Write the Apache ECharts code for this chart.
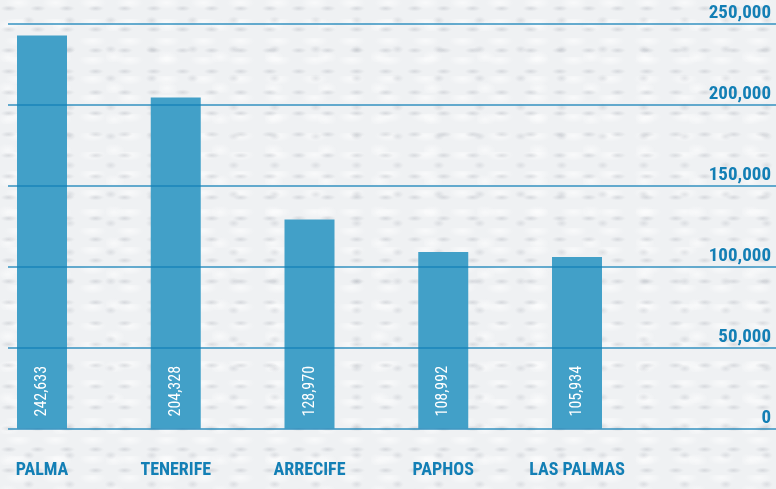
<!DOCTYPE html>
<html>
<head>
<meta charset="utf-8">
<script src="https://cdn.jsdelivr.net/npm/echarts@6/dist/echarts.min.js"></script>
<style>
  html, body { margin: 0; padding: 0; }
  body {
    width: 776px; height: 489px; overflow: hidden;
    background-color: #eff1f3;
    background-image:
      radial-gradient(ellipse 8px 3px at 30% 40%, rgba(140,145,155,0.25), transparent 100%),
      radial-gradient(ellipse 6px 4px at 70% 70%, rgba(140,145,155,0.2), transparent 100%),
      radial-gradient(ellipse 14px 6px at 50% 15%, rgba(255,255,255,0.6), transparent 100%),
      radial-gradient(ellipse 11px 7px at 15% 85%, rgba(255,255,255,0.55), transparent 100%);
    background-size: 29px 21px, 41px 29px, 37px 19px, 53px 31px;
  }
  #chart { width: 776px; height: 489px; }
</style>
</head>
<body>
<div id="chart"></div>
<script>
// Airports and passenger totals
const airports = ['PALMA', 'TENERIFE', 'ARRECIFE', 'PAPHOS', 'LAS PALMAS'];
const passengers = [242633, 204328, 128970, 108992, 105934];
const yTicks = [0, 50000, 100000, 150000, 200000, 250000];

const blue = '#137fb5';
const barBlue = '#42a0c8';
const condensed = '"Liberation Sans Narrow", "Roboto Condensed", "Arial Narrow", sans-serif';

const chart = echarts.init(document.getElementById('chart'), null, { renderer: 'canvas' });

const gridTop = 23.5, gridBottom = 60.5;

chart.setOption({
  animation: false,
  backgroundColor: 'transparent',
  grid: [
    // full-width grid carrying the horizontal rules and right-hand labels
    { left: 8, right: 0, top: gridTop, bottom: gridBottom, containLabel: false },
    // bar grid: categories sit on ticks from the first to the last bar centre
    { left: 42, width: 535, top: gridTop, bottom: gridBottom, containLabel: false }
  ],
  xAxis: [
    { type: 'value', gridIndex: 0, show: false, min: 0, max: 1 },
    {
      type: 'category', gridIndex: 1, data: airports, boundaryGap: false,
      axisLine: { show: false }, axisTick: { show: false }, splitLine: { show: false },
      axisLabel: {
        color: blue, fontFamily: condensed, fontWeight: 'bold', fontSize: 18,
        margin: 33, interval: 0
      }
    }
  ],
  yAxis: [
    {
      type: 'value', gridIndex: 0, position: 'right',
      min: yTicks[0], max: yTicks[yTicks.length - 1], interval: yTicks[1] - yTicks[0],
      z: 5,
      axisLine: { show: false }, axisTick: { show: false },
      splitLine: { lineStyle: { color: 'rgba(18,128,182,0.85)', width: 1.5 } },
      axisLabel: {
        inside: true, margin: 5, align: 'right', verticalAlign: 'bottom',
        color: blue, fontFamily: condensed, fontWeight: 'bold', fontSize: 19,
        padding: [0, 0, 1, 0],
        formatter: v => v.toLocaleString('en-US')
      }
    },
    {
      type: 'value', gridIndex: 1, show: false,
      min: yTicks[0], max: yTicks[yTicks.length - 1]
    }
  ],
  series: [
    {
      type: 'bar', xAxisIndex: 1, yAxisIndex: 1,
      data: passengers, barWidth: 50, clip: false,
      itemStyle: { color: barBlue },
      label: {
        show: true, position: 'insideBottom', rotate: 90,
        align: 'left', verticalAlign: 'middle', distance: 12,
        color: '#ffffff', fontFamily: condensed, fontSize: 16,
        formatter: p => p.value.toLocaleString('en-US')
      }
    }
  ]
});
</script>
</body>
</html>
